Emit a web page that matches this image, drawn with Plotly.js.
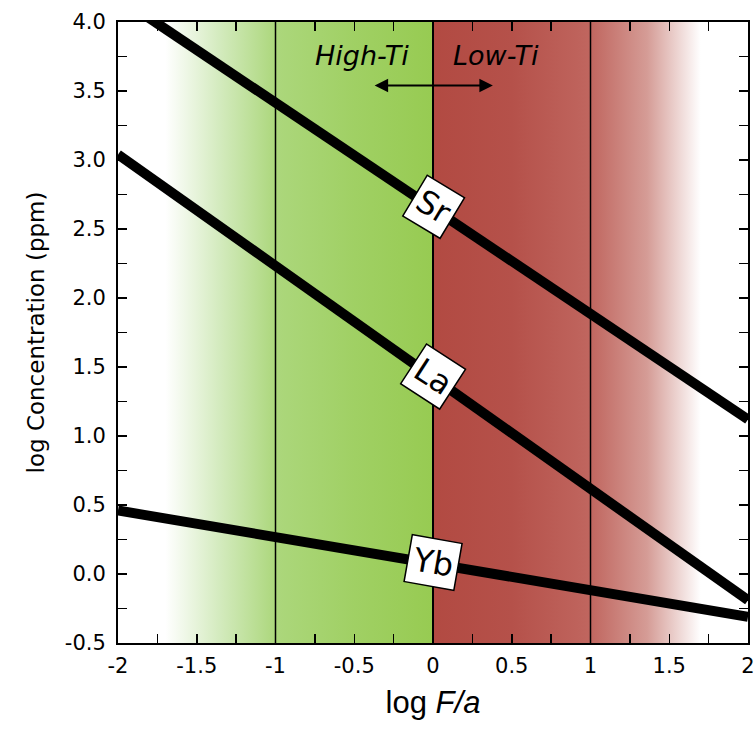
<!DOCTYPE html>
<html>
<head>
<meta charset="utf-8">
<script src="https://cdn.plot.ly/plotly-3.0.1.min.js"></script>
<style>html,body{margin:0;padding:0;background:#fff;}#chart{width:755px;height:730px;}</style>
</head>
<body>
<div id="chart"></div>
<script>
// ---- data ----
const logFa = [-2, -1, 0, 1, 2];
const srConc = [4.18, 3.41, 2.64, 1.88, 1.12];
const laConc = [3.04, 2.23, 1.43, 0.62, -0.19];
const ybConc = [0.46, 0.27, 0.08, -0.12, -0.31];

const elementNames = ['Sr', 'La', 'Yb'];
const labelX = [0, 0, 0];
const labelY = [2.66, 1.43, 0.08];
const labelAngle = [31, 33, 10];

const xTickVals = [-2, -1.75, -1.5, -1.25, -1, -0.75, -0.5, -0.25, 0, 0.25, 0.5, 0.75, 1, 1.25, 1.5, 1.75, 2];
const xTickText = ['-2', '', '-1.5', '', '-1', '', '-0.5', '', '0', '', '0.5', '', '1', '', '1.5', '', '2'];
const yTickVals = [-0.5, -0.25, 0, 0.25, 0.5, 0.75, 1, 1.25, 1.5, 1.75, 2, 2.25, 2.5, 2.75, 3, 3.25, 3.5, 3.75, 4];
const yTickText = ['-0.5', '', '0.0', '', '0.5', '', '1.0', '', '1.5', '', '2.0', '', '2.5', '', '3.0', '', '3.5', '', '4.0'];

const xRange = [-2, 2];
const yRange = [-0.5, 4.0];
const highTiZone = [-2, 0];
const lowTiZone = [0, 2];
const refLines = [-1, 0, 1];
const regimeNames = ['High-Ti', 'Low-Ti'];
const regimeX = [-0.45, 0.40];
const regimeY = 3.76;
const arrowSpan = [-0.38, 0.38];
const arrowY = 3.54;

// ---- build ----
function zoneTrace(zone, scale) {
  return {
    x: [zone[0], zone[1], zone[1], zone[0], zone[0]],
    y: [yRange[0], yRange[0], yRange[1], yRange[1], yRange[0]],
    mode: 'lines', fill: 'toself', line: {width: 0},
    fillgradient: {type: 'horizontal', start: zone[0], stop: zone[1], colorscale: scale},
    hoverinfo: 'skip', showlegend: false
  };
}
const greenScale = [[0, '#ffffff'], [0.15, '#ffffff'], [0.32, '#d4ebbf'], [0.5, '#acd77c'], [0.75, '#a0d064'], [1, '#97cb52']];
const redScale = [[0, '#b24a42'], [0.25, '#b5514a'], [0.5, '#c0665f'], [0.68, '#d59c96'], [0.85, '#ffffff'], [1, '#ffffff']];

function lineTrace(y, w) {
  return {x: logFa, y: y, mode: 'lines', line: {color: '#000', width: w}, hoverinfo: 'skip', showlegend: false};
}

const traces = [
  zoneTrace(highTiZone, greenScale),
  zoneTrace(lowTiZone, redScale),
  lineTrace(srConc, 10),
  lineTrace(laConc, 10),
  lineTrace(ybConc, 10)
];

const shapes = refLines.map(v => ({
  type: 'line', xref: 'x', yref: 'y', x0: v, x1: v, y0: yRange[0], y1: yRange[1],
  line: {color: '#000', width: v === 0 ? 2 : 1.5}, layer: 'above'
}));

const annotations = elementNames.map((n, i) => ({
  x: labelX[i], y: labelY[i], xref: 'x', yref: 'y', text: n, showarrow: false,
  textangle: labelAngle[i], bgcolor: '#fff', bordercolor: '#000', borderwidth: 1.5, borderpad: 4,
  font: {family: 'DejaVu Sans, sans-serif', size: 32, color: '#000'}
}));
regimeNames.forEach((n, i) => annotations.push({
  x: regimeX[i], y: regimeY, xref: 'x', yref: 'y', text: '<i>' + n + '</i>', showarrow: false,
  font: {family: 'DejaVu Sans, sans-serif', size: 27, color: '#000'}
}));
annotations.push({
  x: arrowSpan[1], y: arrowY, ax: arrowSpan[0], ay: arrowY, xref: 'x', yref: 'y', axref: 'x', ayref: 'y',
  text: '', showarrow: true, arrowhead: 2, startarrowhead: 2, arrowside: 'end+start',
  arrowsize: 1.5, startarrowsize: 1.5, arrowwidth: 1.8, arrowcolor: '#000'
});

const tickFont = {family: 'DejaVu Sans, sans-serif', size: 21, color: '#000'};

const layout = {
  width: 755, height: 730,
  margin: {l: 118, r: 7, t: 22, b: 87},
  paper_bgcolor: '#fff', plot_bgcolor: '#fff',
  showlegend: false,
  xaxis: {
    range: xRange, tickmode: 'array', tickvals: xTickVals, ticktext: xTickText,
    ticks: 'inside', ticklen: 9, tickwidth: 1.5, tickcolor: '#000',
    showline: true, linecolor: '#000', linewidth: 2, mirror: 'ticks',
    showgrid: false, zeroline: false, tickfont: tickFont, ticklabelstandoff: 3,
    title: {text: 'log <i>F/a</i>', font: {family: 'Liberation Sans, Arial, sans-serif', size: 31, color: '#000'}, standoff: 14}
  },
  yaxis: {
    range: yRange, tickmode: 'array', tickvals: yTickVals, ticktext: yTickText,
    ticks: 'inside', ticklen: 9, tickwidth: 1.5, tickcolor: '#000',
    showline: true, linecolor: '#000', linewidth: 2, mirror: 'ticks',
    showgrid: false, zeroline: false, ticklabelstandoff: 6,
    tickfont: tickFont,
    title: {text: 'log Concentration (ppm)', font: {family: 'DejaVu Sans, sans-serif', size: 23, color: '#000'}, standoff: 14}
  },
  shapes: shapes,
  annotations: annotations
};

Plotly.newPlot('chart', traces, layout, {displayModeBar: false, staticPlot: true});
</script>
</body>
</html>
